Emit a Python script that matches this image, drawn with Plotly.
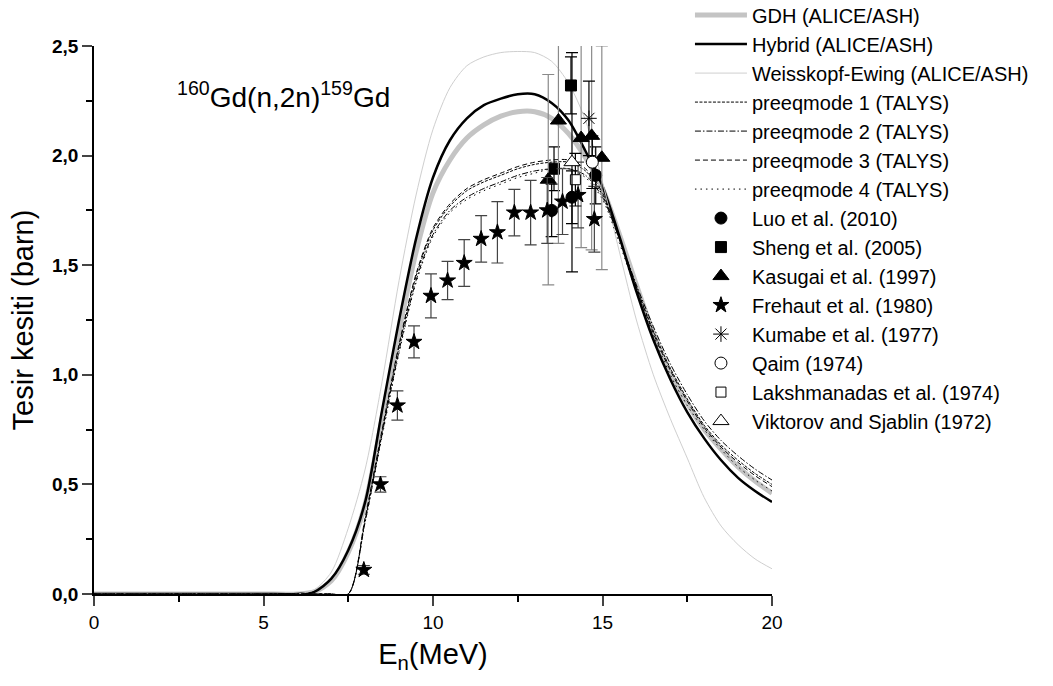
import plotly.graph_objects as go

# ---- model curves (energy grid, MeV) ----
energy = [0, 1, 2, 3, 4, 5, 6, 6.5, 7, 7.5, 8, 8.5, 9, 9.5, 10, 10.5, 11, 11.5, 12, 12.5,
          13, 13.5, 14, 14.5, 15, 15.5, 16, 16.5, 17, 17.5, 18, 18.5, 19, 19.5, 20]

gdh = [0, 0, 0, 0, 0, 0, 0, 0.01, 0.06, 0.19, 0.41, 0.80, 1.20, 1.56, 1.83, 1.98, 2.08, 2.14, 2.18, 2.20,
       2.20, 2.17, 2.10, 1.99, 1.85, 1.64, 1.41, 1.19, 1.01, 0.87, 0.75, 0.66, 0.58, 0.515, 0.46]
hybrid = [0, 0, 0, 0, 0, 0, 0, 0.01, 0.07, 0.20, 0.42, 0.84, 1.25, 1.62, 1.90, 2.07, 2.17, 2.23, 2.26, 2.28,
          2.28, 2.24, 2.16, 2.02, 1.86, 1.63, 1.38, 1.16, 0.98, 0.83, 0.71, 0.61, 0.53, 0.47, 0.42]
weisskopf = [0, 0, 0, 0, 0, 0, 0, 0.02, 0.10, 0.30, 0.57, 0.97, 1.43, 1.82, 2.12, 2.31, 2.41, 2.45, 2.47, 2.475,
             2.47, 2.43, 2.33, 2.16, 1.88, 1.56, 1.25, 1.00, 0.80, 0.62, 0.44, 0.31, 0.225, 0.16, 0.115]
pm1 = [0, 0, 0, 0, 0, 0, 0, 0, 0, 0, 0.34, 0.74, 1.13, 1.45, 1.66, 1.77, 1.84, 1.88, 1.91, 1.94,
       1.96, 1.97, 1.97, 1.93, 1.82, 1.62, 1.40, 1.20, 1.03, 0.89, 0.77, 0.68, 0.61, 0.55, 0.50]
pm2 = [0, 0, 0, 0, 0, 0, 0, 0, 0, 0, 0.33, 0.73, 1.11, 1.43, 1.64, 1.75, 1.81, 1.85, 1.88, 1.91,
       1.93, 1.94, 1.94, 1.91, 1.81, 1.62, 1.41, 1.22, 1.05, 0.91, 0.79, 0.70, 0.63, 0.57, 0.52]
pm3 = [0, 0, 0, 0, 0, 0, 0, 0, 0, 0, 0.35, 0.75, 1.14, 1.46, 1.67, 1.78, 1.85, 1.89, 1.92, 1.95,
       1.97, 1.98, 1.98, 1.94, 1.83, 1.62, 1.40, 1.19, 1.02, 0.88, 0.76, 0.67, 0.60, 0.54, 0.49]
pm4 = [0, 0, 0, 0, 0, 0, 0, 0, 0, 0, 0.33, 0.72, 1.10, 1.42, 1.63, 1.74, 1.80, 1.84, 1.87, 1.90,
       1.92, 1.94, 1.94, 1.90, 1.80, 1.60, 1.38, 1.18, 1.00, 0.86, 0.75, 0.66, 0.58, 0.52, 0.47]

# ---- experimental data ----
luo_x = [13.5, 14.1, 14.8]
luo_y = [1.75, 1.81, 1.91]
luo_err = [0.12, 0.12, 0.13]

sheng_x = [13.57, 14.07]
sheng_y = [1.94, 2.32]
sheng_err = [0.10, 0.13]

kasugai_x = [13.4, 13.7, 14.37, 14.68, 14.98]
kasugai_y = [1.89, 2.16, 2.08, 2.09, 1.99]
kasugai_err = [0.48, 0.56, 0.50, 0.52, 0.51]

frehaut_x = [7.96, 8.45, 8.95, 9.44, 9.94, 10.43, 10.92, 11.42, 11.90, 12.40, 12.88, 13.37, 13.82, 14.28, 14.76]
frehaut_y = [0.11, 0.50, 0.86, 1.15, 1.36, 1.43, 1.51, 1.62, 1.65, 1.74, 1.74, 1.75, 1.79, 1.82, 1.71]
frehaut_err = [0.02, 0.035, 0.067, 0.073, 0.10, 0.087, 0.107, 0.106, 0.14, 0.106, 0.147, 0.15, 0.15, 0.15, 0.15]

kumabe_x = [14.6]
kumabe_y = [2.17]
kumabe_err = [0.17]

qaim_x = [14.7]
qaim_y = [1.97]
qaim_err = [0.12]

laksh_x = [14.2]
laksh_y = [1.89]
laksh_err = [0.12]

viktorov_x = [14.1]
viktorov_y = [1.97]
viktorov_err = [0.50]

x_ticks = [0, 5, 10, 15, 20]
y_ticks = [0.0, 0.5, 1.0, 1.5, 2.0, 2.5]

FONT = "Liberation Sans, Arial, sans-serif"

fig = go.Figure()

curves = [
    ("GDH (ALICE/ASH)", gdh, "#c4c4c4", 5, "solid"),
    ("Hybrid (ALICE/ASH)", hybrid, "black", 2.5, "solid"),
    ("Weisskopf-Ewing (ALICE/ASH)", weisskopf, "#cfcfcf", 1, "solid"),
    ("preeqmode 1 (TALYS)", pm1, "black", 1, "3px,1.5px"),
    ("preeqmode 2 (TALYS)", pm2, "black", 1, "6px,2px,1.5px,2px"),
    ("preeqmode 3 (TALYS)", pm3, "black", 1, "5px,3px"),
    ("preeqmode 4 (TALYS)", pm4, "black", 1, "1.5px,4px"),
]
for name, ys, col, w, dash in curves:
    fig.add_trace(go.Scatter(x=energy, y=ys, mode="lines", name=name,
                             line=dict(color=col, width=w, dash=dash, shape="spline", smoothing=0.8)))

points = [
    ("Luo et al. (2010)", luo_x, luo_y, luo_err, "circle", "black", 12, "black"),
    ("Sheng et al. (2005)", sheng_x, sheng_y, sheng_err, "square", "black", 11, "black"),
    ("Kasugai et al. (1997)", kasugai_x, kasugai_y, kasugai_err, "triangle-up", "black", 14, "#8a8a8a"),
    ("Frehaut et al. (1980)", frehaut_x, frehaut_y, frehaut_err, "star", "black", 12, "#444444"),
    ("Kumabe et al. (1977)", kumabe_x, kumabe_y, kumabe_err, "asterisk-open", "black", 13, "black"),
    ("Qaim (1974)", qaim_x, qaim_y, qaim_err, "circle", "white", 12, "black"),
    ("Lakshmanadas et al. (1974)", laksh_x, laksh_y, laksh_err, "square", "white", 10, "black"),
    ("Viktorov and Sjablin (1972)", viktorov_x, viktorov_y, viktorov_err, "triangle-up", "white", 14, "black"),
]
for name, xs, ys, es, sym, fill, size, ecol in points:
    fig.add_trace(go.Scatter(
        x=xs, y=ys, mode="markers", name=name, cliponaxis=False,
        marker=dict(symbol=sym, color=fill, size=size, line=dict(color="black", width=1)),
        error_y=dict(type="data", array=es, visible=True, color=ecol, thickness=1.2, width=6),
    ))

fig.add_annotation(
    text="<sup>160</sup>Gd(n,2n)<sup>159</sup>Gd", xref="paper", yref="paper",
    x=0.279, y=0.911, xanchor="center", yanchor="middle", showarrow=False,
    font=dict(family=FONT, size=28, color="black"),
)

fig.update_layout(
    width=1053, height=686,
    margin=dict(l=94, r=281, t=46, b=92, autoexpand=False),
    paper_bgcolor="white", plot_bgcolor="white",
    separators=",.",
    font=dict(family=FONT, color="black"),
    showlegend=True,
    legend=dict(x=0.879, y=1.092, xanchor="left", yanchor="top", bgcolor="rgba(0,0,0,0)",
                font=dict(family=FONT, size=20, color="black"), tracegroupgap=0, itemwidth=52,
                maxheight=686),
    xaxis=dict(range=[0, 20], tickvals=x_ticks, ticks="outside", ticklen=10, tickwidth=1.5,
               showline=True, linecolor="black", linewidth=1.5, showgrid=False, zeroline=False,
               minor=dict(dtick=2.5, ticks="outside", ticklen=6, tickwidth=1.5, tickcolor="black"),
               tickfont=dict(family=FONT, size=19, color="black"),
               title=dict(text="E<sub>n</sub>(MeV)", font=dict(family=FONT, size=29), standoff=12)),
    yaxis=dict(range=[0, 2.5], tickvals=y_ticks, tickformat=".1f", ticks="outside", ticklen=10, tickwidth=1.5,
               showline=True, linecolor="black", linewidth=1.5, showgrid=False, zeroline=False,
               minor=dict(dtick=0.25, ticks="outside", ticklen=6, tickwidth=1.5, tickcolor="black"),
               tickfont=dict(family=FONT, size=19, color="black", weight="bold"),
               title=dict(text="Tesir kesiti (barn)", font=dict(family=FONT, size=29), standoff=10)),
)

fig.write_html("out.html")
